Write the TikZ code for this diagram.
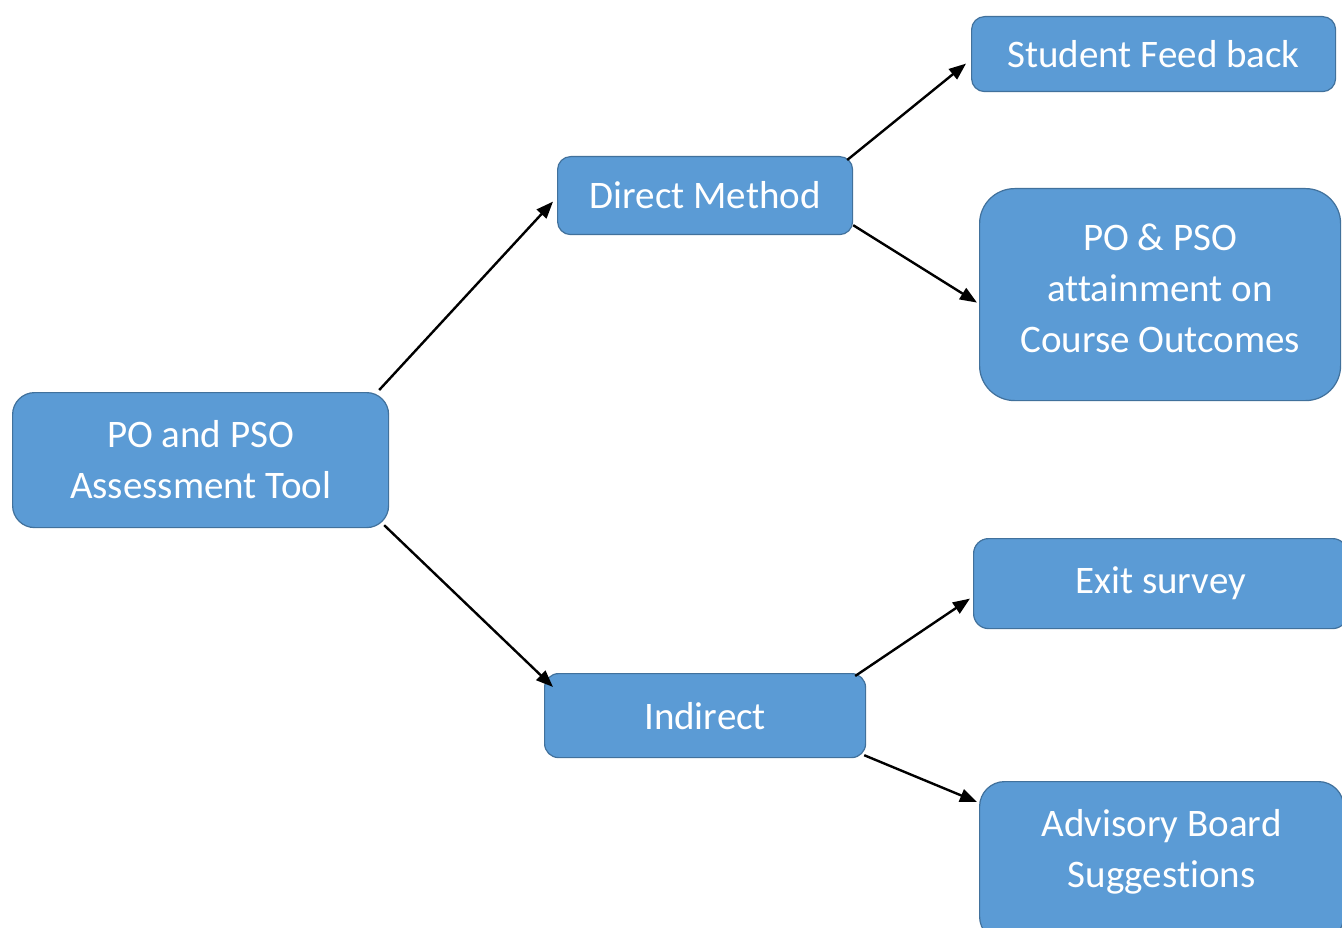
\documentclass[tikz,border=0pt]{standalone}
\usepackage{fontspec}
\setmainfont{Carlito}[Ligatures=NoCommon]
\usetikzlibrary{arrows.meta,calc}
\definecolor{boxfill}{HTML}{5B9BD5}
\definecolor{boxline}{HTML}{41719C}
\begin{document}
\begin{tikzpicture}[x=1pt,y=-1pt,
  boxtext/.style={text=white, align=center, font=\fontsize{39}{51}\selectfont},
  box/.style={draw=boxline, line width=1.2pt, fill=boxfill, anchor=north west, inner sep=0pt, boxtext},
  arr/.style={-{Triangle[length=17pt,width=13pt]}, line width=2.4pt, black}]
\useasboundingbox (0,0) rectangle (1342,928);
\clip (0,0) rectangle (1342,928);
\fill[white] (0,0) rectangle (1342,928);
\node[box, minimum width=376pt, minimum height=135pt, rounded corners=22pt] (root) at (12,392) {PO and PSO\\Assessment Tool};
\node[box, minimum width=295pt, minimum height=78pt, rounded corners=13pt] (dm) at (557,156) {Direct Method};
\node[box, minimum width=321pt, minimum height=84pt, rounded corners=14pt] (ind) at (544,673) {Indirect};
\node[box, minimum width=364pt, minimum height=75pt, rounded corners=13pt] (sf) at (971,16) {Student Feed back};
\node[box, minimum width=361pt, minimum height=212pt, rounded corners=35pt,
  label={[boxtext, yshift=6pt]center:PO \& PSO\\attainment on\\Course Outcomes}] (po) at (979,188) {};
\node[box, minimum width=374pt, minimum height=90pt, rounded corners=15pt] (ex) at (973,538) {Exit survey};
\node[box, minimum width=364pt, minimum height=160pt, rounded corners=25pt,
  label={[boxtext, yshift=10pt]center:Advisory Board\\Suggestions}] (adv) at (979,781) {};
\draw[arr] ([xshift=-10pt,yshift=2pt]root.north east) -- ([xshift=-4pt,yshift=-6pt]dm.west);
\draw[arr] ([xshift=-5pt,yshift=3pt]root.south east) -- ([xshift=9pt,yshift=-14pt]ind.north west);
\draw[arr] ([xshift=-6pt,yshift=-4pt]dm.north east) -- ([xshift=-5pt,yshift=-9.5pt]sf.west);
\draw[arr] ([yshift=10pt]dm.south east) -- ([xshift=-2pt,yshift=-8pt]po.west);
\draw[arr] ([xshift=-11pt,yshift=-3pt]ind.north east) -- ([xshift=-3pt,yshift=-15pt]ex.west);
\draw[arr] ([xshift=-2pt,yshift=3pt]ind.south east) -- ([xshift=-2pt,yshift=-21pt]adv.north west);
\end{tikzpicture}
\end{document}
